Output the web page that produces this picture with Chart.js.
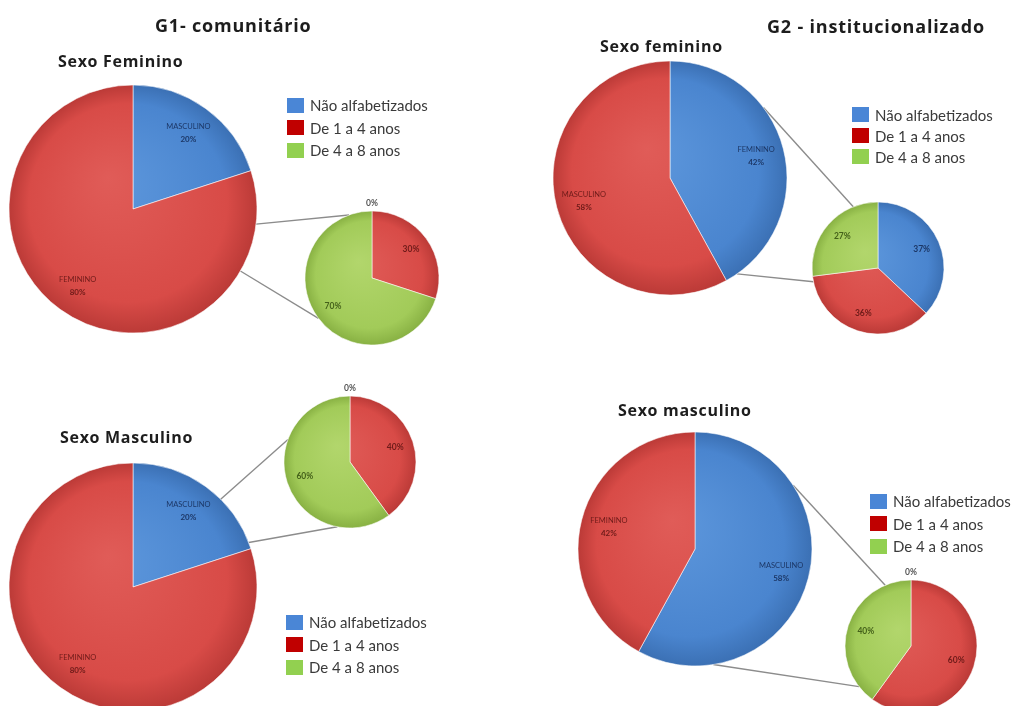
<!DOCTYPE html>
<html lang="pt">
<head>
<meta charset="utf-8">
<title>Escolaridade por sexo - G1 e G2</title>
<script src="https://cdn.jsdelivr.net/npm/chart.js@4.4.1/dist/chart.umd.min.js"></script>
<style>
    html, body { margin: 0; padding: 0; background: #fff; }
    body { width: 1013px; height: 706px; position: relative; overflow: hidden; font-family: Lato, "Open Sans", sans-serif; }
    canvas { position: absolute; z-index: 1; }
    #links { left: 0; top: 0; z-index: 0; }
    .title { position: absolute; z-index: 2; font-family: "Open Sans", sans-serif; font-weight: 700; color: #1d1d1d; white-space: nowrap; transform: translateY(-50%); }
    .title.group { font-size: 18px; letter-spacing: 0.8px; }
    .title.sex { font-size: 16px; letter-spacing: 0.7px; }
    .legend { position: absolute; z-index: 2; font-size: 15px; color: #3a3a3a; }
    .legend .row { display: flex; align-items: center; height: 22.5px; white-space: nowrap; }
    .legend .box { width: 17px; height: 15px; margin-right: 6px; }
</style>
</head>
<body>
<canvas id="links" width="1013" height="706"></canvas>
<script>
(function () {
    const schoolingLevels = ["Não alfabetizados", "De 1 a 4 anos", "De 4 a 8 anos"];

    // G1 - comunitário
    const g1FemSex = ["MASCULINO", "FEMININO"];
    const g1FemSexPct = [20, 80];
    const g1FemSchoolingPct = [0, 30, 70];

    const g1MascSex = ["MASCULINO", "FEMININO"];
    const g1MascSexPct = [20, 80];
    const g1MascSchoolingPct = [0, 40, 60];

    // G2 - institucionalizado
    const g2FemSex = ["FEMININO", "MASCULINO"];
    const g2FemSexPct = [42, 58];
    const g2FemSchoolingPct = [37, 36, 27];

    const g2MascSex = ["MASCULINO", "FEMININO"];
    const g2MascSexPct = [58, 42];
    const g2MascSchoolingPct = [0, 60, 40];

    const BLUE = { light: "#5d97dc", base: "#4a85cf", dark: "#3b70b4", ink: "#1c3766" };
    const RED = { light: "#e05c58", base: "#d84b47", dark: "#bb3a37", ink: "#6e1b19" };
    const GREEN = { light: "#b2d66c", base: "#a2cb59", dark: "#88b143", ink: "#44611a" };
    const LEGEND_COLORS = ["#4a86d6", "#c00000", "#92d050"];

    const titles = [
        { text: "G1- comunitário", cls: "group", x: 155, y: 25 },
        { text: "G2 - institucionalizado", cls: "group", x: 767, y: 26 },
        { text: "Sexo Feminino", cls: "sex", x: 58, y: 61 },
        { text: "Sexo feminino", cls: "sex", x: 600, y: 46 },
        { text: "Sexo Masculino", cls: "sex", x: 60, y: 437 },
        { text: "Sexo masculino", cls: "sex", x: 618, y: 410 }
    ];

    // each panel: main pie split by sex, secondary pie split by schooling
    const panels = [
        {
            sex: g1FemSex, sexPct: g1FemSexPct, school: g1FemSchoolingPct,
            big: { x: 133, y: 209, r: 124 }, small: { x: 372, y: 278, r: 67 },
            links: [[97, 340], [120, 233]],
            legend: { x: 287, y: 94 }
        },
        {
            sex: g1MascSex, sexPct: g1MascSexPct, school: g1MascSchoolingPct,
            big: { x: 133, y: 587, r: 124 }, small: { x: 350, y: 462, r: 66 },
            links: [[69, 191], [45, 290]],
            legend: { x: 286, y: 611 }
        },
        {
            sex: g2FemSex, sexPct: g2FemSexPct, school: g2FemSchoolingPct,
            big: { x: 670, y: 178, r: 117 }, small: { x: 878, y: 268, r: 66 },
            links: [[53, 338], [145, 258]],
            legend: { x: 852, y: 104, step: 21 }
        },
        {
            sex: g2MascSex, sexPct: g2MascSexPct, school: g2MascSchoolingPct,
            big: { x: 695, y: 549, r: 117 }, small: { x: 911, y: 646, r: 66 },
            links: [[57, 337], [171, 232]],
            legend: { x: 870, y: 490 }
        }
    ];

    const sliceLabels = {
        id: "sliceLabels",
        afterDatasetsDraw(chart, args, opts) {
            var ctx = chart.ctx,
                meta = chart.getDatasetMeta(0),
                values = chart.data.datasets[0].data,
                names = chart.data.labels;

            ctx.save();
            ctx.textAlign = "center";
            ctx.textBaseline = "middle";

            meta.data.forEach((arc, i) => {
                var v = values[i],
                    mid = (arc.startAngle + arc.endAngle) / 2,
                    dist = v === 0 ? arc.outerRadius + 8 : arc.outerRadius * opts.radius,
                    x = arc.x + Math.cos(mid) * dist,
                    y = arc.y + Math.sin(mid) * dist;

                ctx.fillStyle = v === 0 ? "#555" : opts.inks[i];

                if (opts.showNames) {
                    ctx.font = "7.5px Lato, sans-serif";
                    ctx.fillText(names[i], x, y - 6);
                    ctx.font = "bold 8px Lato, sans-serif";
                    ctx.fillText(v + "%", x, y + 7);
                } else {
                    ctx.font = "bold 8.5px Lato, sans-serif";
                    ctx.fillText(v + "%", x, y);
                }
            });

            ctx.restore();
        }
    };

    function shade(chart, tone, r) {
        var area = chart.chartArea;

        if (!area) {
            return tone.base;
        }

        var cx = (area.left + area.right) / 2,
            cy = (area.top + area.bottom) / 2,
            g = chart.ctx.createRadialGradient(cx - r * 0.2, cy - r * 0.25, 0, cx, cy, r);

        g.addColorStop(0, tone.light);
        g.addColorStop(0.8, tone.base);
        g.addColorStop(1, tone.dark);

        return g;
    }

    function drawPie(pos, labels, values, tones, showNames, labelRadius) {
        var size = pos.r * 2 + 40,
            $canvas = document.createElement("canvas");

        $canvas.width = size;
        $canvas.height = size;
        $canvas.style.left = (pos.x - size / 2) + "px";
        $canvas.style.top = (pos.y - size / 2) + "px";
        document.body.appendChild($canvas);

        return new Chart($canvas, {
            type: "pie",
            data: {
                labels: labels,
                datasets: [{
                    data: values,
                    backgroundColor: c => shade(c.chart, tones[c.dataIndex], pos.r),
                    borderColor: "rgba(255,255,255,0.55)",
                    borderWidth: 1
                }]
            },
            options: {
                responsive: false,
                animation: false,
                events: [],
                radius: pos.r,
                layout: { padding: 0 },
                plugins: {
                    legend: { display: false },
                    tooltip: { enabled: false },
                    sliceLabels: {
                        showNames: showNames,
                        radius: labelRadius,
                        inks: tones.map(t => t.ink)
                    }
                }
            },
            plugins: [sliceLabels]
        });
    }

    function pointOn(chart, deg) {
        var arc = chart.getDatasetMeta(0).data[0],
            box = chart.canvas,
            a = deg * Math.PI / 180;

        return {
            x: parseFloat(box.style.left) + arc.x + Math.sin(a) * arc.outerRadius,
            y: parseFloat(box.style.top) + arc.y - Math.cos(a) * arc.outerRadius
        };
    }

    function drawLegend(spec) {
        var $el = document.createElement("div"),
            step = spec.step || 22.5;

        $el.className = "legend";
        $el.style.left = spec.x + "px";
        $el.style.top = spec.y + "px";
        $el.innerHTML = schoolingLevels
            .map((name, i) => `<div class="row" style="height:${step}px"><span class="box" style="background:${LEGEND_COLORS[i]}"></span>${name}</div>`)
            .join("\n");
        document.body.appendChild($el);
    }

    titles.forEach(t => {
        var $el = document.createElement("div");
        $el.className = "title " + t.cls;
        $el.style.left = t.x + "px";
        $el.style.top = t.y + "px";
        $el.textContent = t.text;
        document.body.appendChild($el);
    });

    var links = document.getElementById("links").getContext("2d");
    links.strokeStyle = "#8c8c8c";
    links.lineWidth = 1.4;

    panels.forEach(p => {
        var big = drawPie(p.big, p.sex, p.sexPct, [BLUE, RED], true, 0.76),
            small = drawPie(p.small, schoolingLevels, p.school, [BLUE, RED, GREEN], false, 0.72);

        p.links.forEach(([from, to]) => {
            var a = pointOn(big, from),
                b = pointOn(small, to);

            links.beginPath();
            links.moveTo(a.x, a.y);
            links.lineTo(b.x, b.y);
            links.stroke();
        });

        drawLegend(p.legend);
    });
})();
</script>
</body>
</html>
